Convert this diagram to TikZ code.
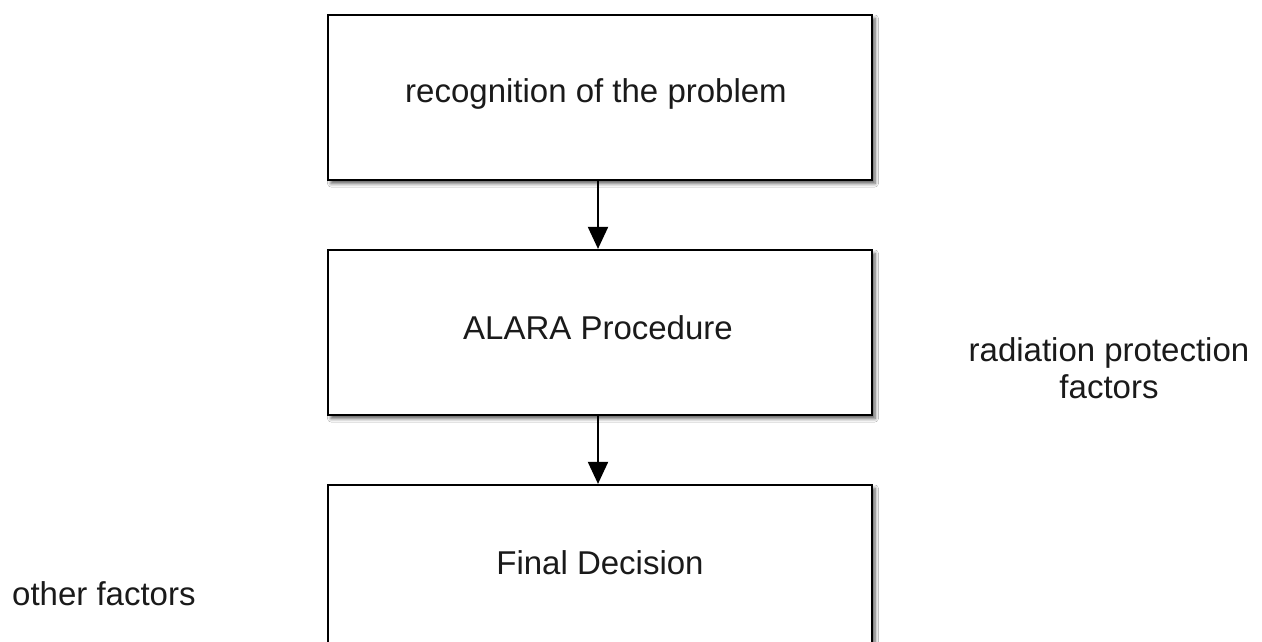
\documentclass[tikz,border=0pt]{standalone}
\usepackage{fontspec}
\setmainfont{Liberation Sans}
\usetikzlibrary{arrows.meta,shadows.blur}
\definecolor{inkdark}{HTML}{1A1A1A}
\tikzset{
  stepbox/.style={draw=black, line width=2.2pt, fill=white, minimum width=544pt,
    minimum height=165pt, inner sep=0pt, text=inkdark,
    blur shadow={shadow xshift=3pt, shadow yshift=-3.5pt, shadow blur steps=6, shadow blur radius=3.5pt, shadow opacity=65}},
  flow/.style={draw=black, line width=2pt, -{Triangle[length=22pt,width=20pt]}},
  label/.style={text=inkdark, align=center, inner sep=0pt}
}
\begin{document}
\begin{tikzpicture}[x=1pt,y=-1pt, font=\fontsize{33}{37}\selectfont]
\useasboundingbox (0,0) rectangle (1262,642);
\clip (0,0) rectangle (1262,642);
\fill[white] (0,0) rectangle (1262,642);
\node[stepbox] (rec) at (600,97.5) {};
\node[stepbox] (alara) at (600,332.5) {};
\node[stepbox] (final) at (600,567.5) {};
\node[label] (rect) at (596,94) {recognition of the problem};
\node[label] (alarat) at (598,328) {ALARA Procedure};
\node[label] (finalt) at (600,563) {Final Decision};
\node[label] (rad) at (1109,368) {radiation protection\\factors};
\node[label, anchor=west] (other) at (12,594) {other factors};
\draw[flow] (rec.south -| 598,0) -- (alara.north -| 598,0);
\draw[flow] (alara.south -| 598,0) -- (final.north -| 598,0);
\end{tikzpicture}
\end{document}
